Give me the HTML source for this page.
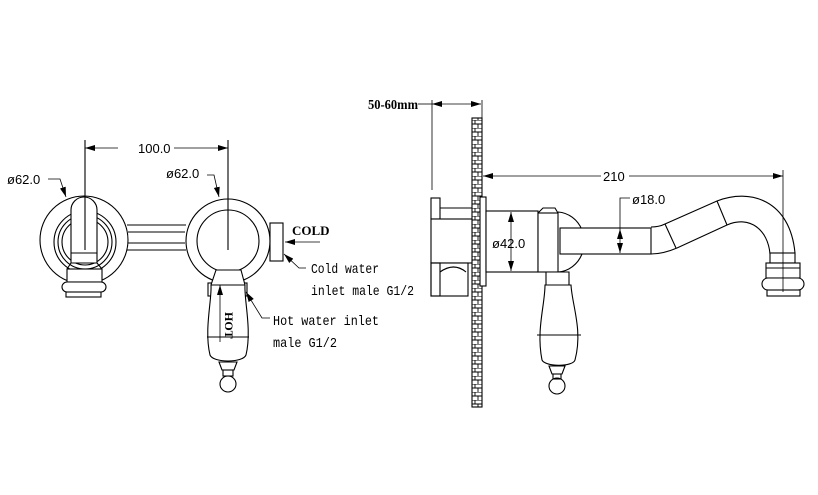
<!DOCTYPE html>
<html><head><meta charset="utf-8"><style>
html,body{margin:0;padding:0;background:#fff;}
svg{display:block;}
text{font-family:"Liberation Sans",sans-serif;font-size:13px;fill:#000;}
.s{font-family:"Liberation Mono",monospace;font-size:14px;}
.b{font-family:"Liberation Serif",serif;font-weight:bold;}
</style></head><body>
<svg width="818" height="495" viewBox="0 0 818 495" xmlns="http://www.w3.org/2000/svg">
<defs>
<marker id="a" viewBox="0 0 10 6" refX="10" refY="3" markerWidth="10" markerHeight="6" orient="auto-start-reverse" markerUnits="userSpaceOnUse"><path d="M0,0L10,3L0,6z" fill="#000"/></marker>
<pattern id="brick" width="10" height="8" patternUnits="userSpaceOnUse">
<rect width="10" height="8" fill="#fff"/>
<path d="M0,0H10M0,4H10M5,0V4M2,4V8M8,4V8" stroke="#000" stroke-width="0.9"/>
</pattern>
</defs>
<g fill="none" stroke="#000" stroke-width="1.1">
<circle cx="84" cy="240" r="44"/>
<circle cx="85" cy="242" r="31"/>
<circle cx="85" cy="242" r="27"/>
<circle cx="85" cy="242" r="23"/>
<path d="M71,263V210a13,13 0 0 1 26,0V263Z" fill="#fff"/>
<line x1="71" y1="253" x2="97" y2="253"/>
<rect x="67" y="269" width="35" height="13" fill="#fff"/>
<line x1="71" y1="263" x2="67" y2="269"/><line x1="97" y1="263" x2="102" y2="269"/>
<rect x="62" y="282" width="44" height="10" rx="5" fill="#fff"/>
<rect x="66" y="292" width="35" height="5" fill="#fff"/>
<path d="M127,225H186M128,232H185M128,243H185M127,250H186"/>
<circle cx="228" cy="241" r="42" fill="#fff"/>
<circle cx="228" cy="241" r="31"/>
<rect x="270" y="223" width="13" height="38"/>
<rect x="208" y="283" width="39" height="13"/>
<path d="M216,270H241L245,285C244,300 252,330 246,355C243,363 213,363 210,355C204,330 212,300 211,285Z" fill="#fff"/>
<line x1="211" y1="285" x2="245" y2="285"/>
<line x1="207" y1="337" x2="249" y2="337"/>
<path d="M219,362h18l-3,8h-12z"/>
<rect x="223" y="370" width="10" height="6"/>
<circle cx="228" cy="384" r="8"/>
<path d="M85,140V250M228,140V250"/>
<line x1="85" y1="148" x2="228" y2="148" marker-start="url(#a)" marker-end="url(#a)" stroke-width="0.8"/>
<path d="M48,179H60L66,197" marker-end="url(#a)" stroke-width="0.8"/>
<path d="M207,175H214L219,197" marker-end="url(#a)" stroke-width="0.8"/>
<line x1="320" y1="242" x2="285" y2="242" marker-end="url(#a)" stroke-width="0.8"/>
<path d="M306,268H299L284,254" marker-end="url(#a)" stroke-width="0.8"/>
<path d="M270,318H262L246,292" marker-end="url(#a)" stroke-width="0.8"/>
<line x1="220" y1="342" x2="220" y2="285" marker-end="url(#a)" stroke-width="0.8"/>

<rect x="472" y="118" width="10" height="289" fill="url(#brick)"/>
<path d="M432,100V190M482,100V118" stroke-width="0.8"/>
<line x1="432" y1="104" x2="481" y2="104" marker-start="url(#a)" marker-end="url(#a)" stroke-width="0.8"/>
<path d="M418,104H432" stroke-width="0.8"/>
<rect x="431" y="198" width="9" height="21" fill="#fff"/>
<path d="M440,208H472M440,219H472"/>
<rect x="431" y="219" width="41" height="44" fill="#fff"/>
<rect x="431" y="263" width="37" height="33" fill="#fff"/>
<rect x="431" y="263" width="9" height="33"/>
<path d="M440,272Q454,262 466,272"/>
<rect x="480" y="197" width="6" height="89" fill="#fff"/>
<rect x="486" y="211" width="52" height="61" fill="#fff"/>
<path d="M558,212A28,30 0 0 1 582,230V254A28,30 0 0 1 558,272"/>
<rect x="538" y="213" width="20" height="59" fill="#fff"/>
<path d="M538,213L543,208H555L558,213"/>
<line x1="511" y1="212" x2="511" y2="271" marker-start="url(#a)" marker-end="url(#a)" stroke-width="0.8"/>
<rect x="560" y="228" width="91" height="26" fill="#fff"/>
<line x1="620" y1="229" x2="620" y2="253" marker-start="url(#a)" marker-end="url(#a)" stroke-width="0.8"/>
<path d="M620,229V198H630" stroke-width="0.8"/>
<path d="M651,227C657,227 661,226 665,224L717,201C750,188 790,200 795,253"/>
<path d="M651,254C660,254 670,251 677,248L727,225C750,215 768,230 770,254"/>
<path d="M665,224L676,248M717,201L727,225"/>
<rect x="770" y="253" width="25" height="10" fill="#fff"/>
<rect x="766" y="263" width="34" height="15" fill="#fff"/>
<line x1="766" y1="268" x2="800" y2="268"/>
<rect x="762" y="278" width="42" height="12" rx="6" fill="#fff"/>
<rect x="767" y="290" width="33" height="6" fill="#fff"/>
<path d="M783,170V292" stroke-width="0.8"/>
<line x1="483" y1="176" x2="783" y2="176" marker-start="url(#a)" marker-end="url(#a)" stroke-width="0.8"/>
<path d="M546,272H569V285H546Z" fill="#fff"/>
<path d="M545,285H571C572,305 583,330 575,360C573,367 545,367 542,360C536,330 545,305 545,285Z" fill="#fff"/>
<path d="M537,335H581"/>
<path d="M549,366h16l-3,8h-10z"/>
<rect x="553" y="374" width="8" height="5"/>
<circle cx="557" cy="386" r="8"/>
</g>
<g>
<rect x="118" y="141" width="56" height="14" fill="#fff"/>
<text x="138" y="153">100.0</text>
<text x="7" y="184">ø62.0</text>
<text x="166" y="178">ø62.0</text>
<text x="292" y="235" class="b" style="font-size:13px">COLD</text>
<text x="311" y="273" class="s" textLength="68" lengthAdjust="spacingAndGlyphs">Cold water</text>
<text x="311" y="295" class="s" textLength="103" lengthAdjust="spacingAndGlyphs">inlet male G1/2</text>
<text x="273" y="325" class="s" textLength="106" lengthAdjust="spacingAndGlyphs">Hot water inlet</text>
<text x="273" y="347" class="s" textLength="64" lengthAdjust="spacingAndGlyphs">male G1/2</text>
<text x="0" y="0" class="b" style="font-size:12px" transform="translate(225,312) rotate(90)">HOT</text>
<text x="368" y="109" class="b" style="font-size:14px" textLength="50" lengthAdjust="spacingAndGlyphs">50-60mm</text>
<rect x="601" y="169" width="28" height="14" fill="#fff"/>
<text x="603" y="181">210</text>
<text x="632" y="204">ø18.0</text>
<text x="492" y="248">ø42.0</text>
</g>
</svg>
</body></html>
